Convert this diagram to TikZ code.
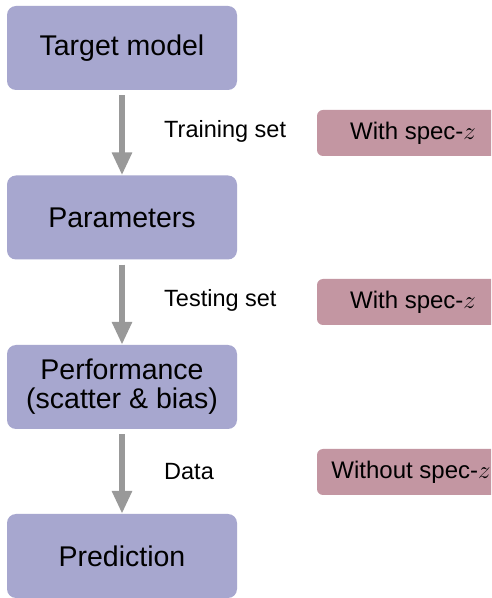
\documentclass[tikz,border=0pt]{standalone}
\usepackage{fontspec}
\setmainfont{Liberation Sans}
\usetikzlibrary{arrows.meta}
\definecolor{stepblue}{HTML}{A7A7CF}
\definecolor{tagpink}{HTML}{C396A2}
\definecolor{flowgray}{HTML}{999999}
\begin{document}
\begin{tikzpicture}[x=1pt,y=1pt,
  stagebox/.style={fill=stepblue, rounded corners=9pt, minimum width=230pt, minimum height=84pt,
    align=center, inner sep=0pt, font=\fontsize{28.5}{32}\selectfont},
  tagbox/.style={fill=tagpink, rounded corners=6pt, minimum width=192pt, minimum height=46pt,
    inner sep=0pt, font=\fontsize{24}{28}\selectfont},
  edgelabel/.style={anchor=west, inner sep=0pt, font=\fontsize{23.5}{27}\selectfont},
  flow/.style={draw=flowgray, line width=6pt, -{Triangle[width=19pt,length=23pt]}}]
\useasboundingbox (0,0) rectangle (491,598);
\clip (0,0) rectangle (491,598);
\fill[white] (0,0) rectangle (491,598);

% main pipeline
\node[stagebox] (target) at (122,550) {Target model};
\node[stagebox] (params) at (122,380.5) {Parameters};
\node[stagebox] (perf)   at (122,211) {Performance\\[-3pt](scatter \& bias)};
\node[stagebox] (pred)   at (122,42)  {Prediction};

\draw[flow] ([yshift=-5pt]target.south) -- (params.north);
\draw[flow] ([yshift=-5pt]params.south) -- (perf.north);
\draw[flow] ([yshift=-5pt]perf.south)   -- (pred.north);

% data used at each step
\node[edgelabel] (l1) at (164,467) {Training set};
\node[edgelabel] (l2) at (164,298) {Testing set};
\node[edgelabel] (l3) at (164,126) {Data};

\node[tagbox] (t1) at (413,465) {With spec-$z$};
\node[tagbox] (t2) at (413,296) {With spec-$z$};
\node[tagbox, minimum width=188pt] (t3) at (411,126) {Without spec-$z$};
\end{tikzpicture}
\end{document}
